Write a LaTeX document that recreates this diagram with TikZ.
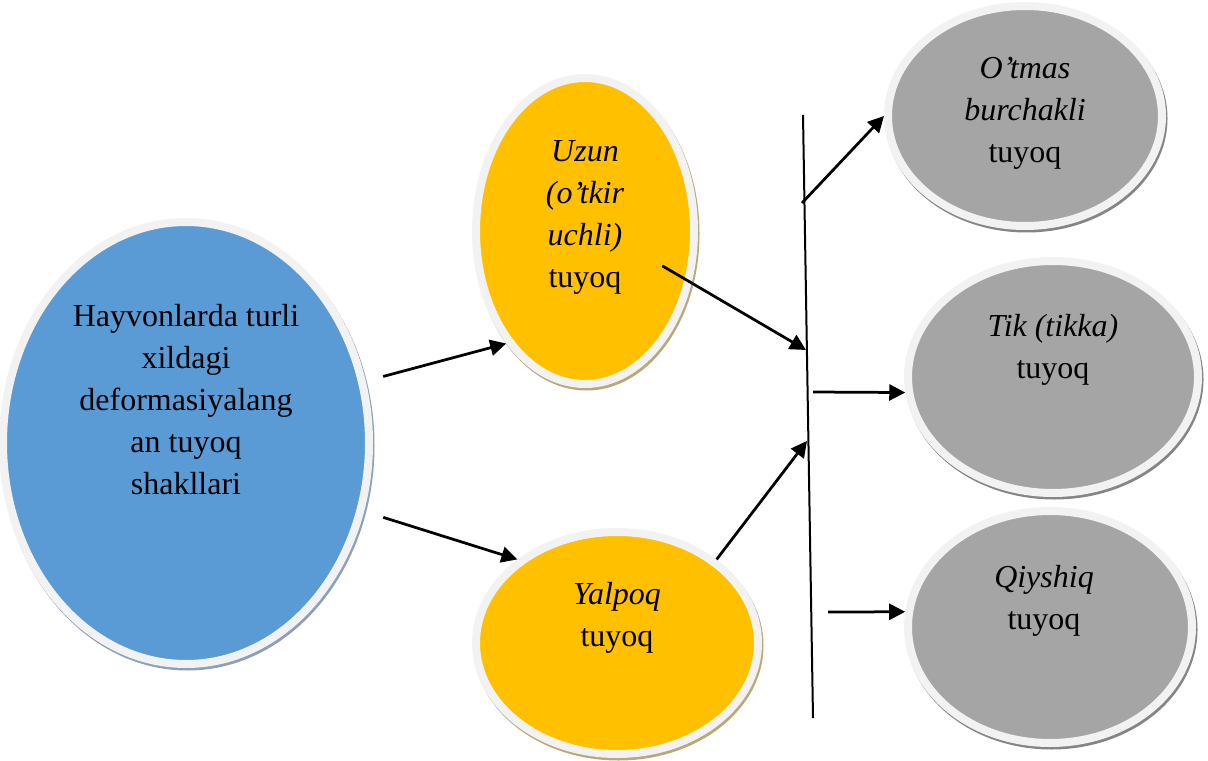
\documentclass[tikz,border=0pt]{standalone}
\usepackage{fontspec}
\setmainfont{Liberation Serif}
\usetikzlibrary{shapes.geometric,shadows,arrows.meta}
\definecolor{blueshape}{HTML}{5B9BD5}
\definecolor{yellowshape}{HTML}{FFC000}
\definecolor{grayshape}{HTML}{A5A5A5}
\definecolor{ringcol}{HTML}{F2F2F2}
\definecolor{blueshadow}{HTML}{8CA0B8}
\definecolor{yellowshadow}{HTML}{BBA878}
\definecolor{grayshadow}{HTML}{858585}
\begin{document}
\begin{tikzpicture}[
        oval/.style={ellipse, draw=ringcol, line width=0.16cm, inner sep=0pt},
        blueoval/.style={oval, fill=blueshape, drop shadow={shadow xshift=0.03cm, shadow yshift=-0.05cm, fill=blueshadow, draw=blueshadow, opacity=1}},
        yellowoval/.style={oval, fill=yellowshape, drop shadow={shadow xshift=0.03cm, shadow yshift=-0.05cm, fill=yellowshadow, draw=yellowshadow, opacity=1}},
        grayoval/.style={oval, fill=grayshape, drop shadow={shadow xshift=0.03cm, shadow yshift=-0.05cm, fill=grayshadow, draw=grayshadow, opacity=1}},
        txt/.style={align=center, font=\fontsize{18.2}{23.9}\selectfont},
        arr/.style={-{Triangle[length=0.32cm,width=0.32cm]}, line width=0.055cm}
    ]
            \useasboundingbox (0,0) rectangle (24.16,15.2);
            % ellipses
            \node [blueoval, minimum width=7.32cm, minimum height=8.84cm] (blue) at (3.72,6.34) {};
            \node [yellowoval, minimum width=4.36cm, minimum height=6.12cm] (uzun) at (11.7,10.58) {};
            \node [yellowoval, minimum width=5.64cm, minimum height=4.44cm] (yalpoq) at (12.34,2.34) {};
            \node [grayoval, minimum width=5.48cm, minimum height=4.4cm] (otmas) at (20.5,12.88) {};
            \node [grayoval, minimum width=5.8cm, minimum height=4.64cm] (tik) at (21.06,7.66) {};
            \node [grayoval, minimum width=5.68cm, minimum height=4.64cm] (qiyshiq) at (21.0,2.66) {};
            % texts
            \node [txt] (bluetxt) at ([yshift=0.86cm]blue.center) {Hayvonlarda turli\\xildagi\\deformasiyalang\\an tuyoq\\shakllari};
            \node [txt] (uzuntxt) at ([yshift=0.27cm]uzun.center) {\textit{Uzun}\\\textit{(o’tkir}\\\textit{uchli)}\\tuyoq};
            \node [txt] (yalpoqtxt) at ([yshift=0.51cm]yalpoq.center) {\textit{Yalpoq}\\tuyoq};
            \node [txt] (otmastxt) at ([yshift=0.06cm]otmas.center) {\textit{O’tmas}\\\textit{burchakli}\\tuyoq};
            \node [txt] (tiktxt) at ([yshift=0.55cm]tik.center) {\textit{Tik (tikka)}\\tuyoq};
            \node [txt] (qiyshiqtxt) at ([xshift=-0.12cm,yshift=0.53cm]qiyshiq.center) {\textit{Qiyshiq}\\tuyoq};
            % vertical bar
            \coordinate (bartop) at (16.06,12.9);
            \coordinate (barbot) at (16.26,0.84);
            \coordinate (j1) at (16.12,8.2);
            \coordinate (j2) at (16.14,6.38);
            \coordinate (o1) at (16.04,11.14);
            \coordinate (o2) at (16.26,7.36);
            \coordinate (o3) at (16.56,2.96);
            \draw [line width=0.04cm] (bartop) to (barbot);
            % arrows
            \draw [arr, shorten <=0.36cm] (blue.19) to (uzun.235);
            \draw [arr, shorten <=0.4cm] (blue.-21) to (yalpoq.140);
            \draw [arr, shorten <=-0.68cm] (uzun.-26) to (j1);
            \draw [arr] (yalpoq.40) to (j2);
            \draw [arr] (o1) to (otmas.180);
            \draw [arr] (o2) to (tik.186);
            \draw [arr] (o3) to (qiyshiq.174);
        \end{tikzpicture}
\end{document}
